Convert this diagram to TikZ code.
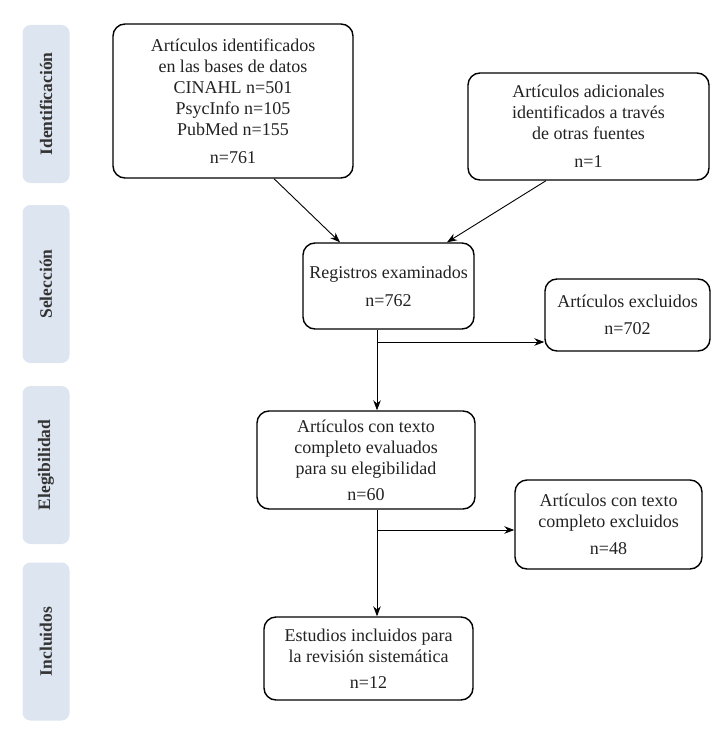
\documentclass[tikz,border=0pt]{standalone}
\usepackage{fontspec}
\setmainfont{Liberation Serif}
\usepackage{tikz}
\usetikzlibrary{arrows.meta, positioning}
\definecolor{lanefill}{RGB}{221,229,240}
\definecolor{inktext}{RGB}{34,34,34}

\begin{document}
\begin{tikzpicture}[
        x=1pt, y=-1pt,
        >={Stealth[length=10pt, width=7.5pt]},
        box/.style={draw, line width=1.4pt, rounded corners=12pt, align=center,
                    inner sep=0pt, text=inktext, font=\fontsize{18}{21}\selectfont},
        lane/.style={fill=lanefill, rounded corners=8pt, rotate=90, inner sep=0pt,
                     minimum width=158pt, minimum height=47pt, text=black!80,
                     font=\fontsize{17.5}{20}\selectfont\bfseries},
        e/.style={->, line width=0.9pt}
    ]
        \useasboundingbox (0,0) rectangle (722,738);

        % phases
        \node[lane] (l1) at (46,104)   {Identificación};
        \node[lane] (l2) at (46,284)   {Selección};
        \node[lane] (l3) at (46,465)   {Elegibilidad};
        \node[lane] (l4) at (46,641.5) {Incluidos};

        % boxes
        \node[box, minimum width=240pt, minimum height=154pt] (db) at (233,101)
            {Artículos identificados\\en las bases de datos\\CINAHL n=501\\PsycInfo n=105\\PubMed n=155\\[7pt]n=761};
        \node[box, minimum width=241pt, minimum height=107pt] (other) at (588.5,126.5)
            {Artículos adicionales\\identificados a través\\de otras fuentes\\[7pt]n=1};
        \node[box, minimum width=171pt, minimum height=86pt] (screen) at (388.5,286)
            {Registros examinados\\[7pt]n=762};
        \node[box, minimum width=165pt, minimum height=72pt] (excl) at (627.5,315)
            {Artículos excluidos\\[6pt]n=702};
        \node[box, minimum width=218pt, minimum height=98pt] (full) at (366,460)
            {Artículos con texto\\completo evaluados\\para su elegibilidad\\[5pt]n=60};
        \node[box, minimum width=187pt, minimum height=89pt] (fullexcl) at (608.5,524.5)
            {Artículos con texto\\completo excluidos\\[6pt]n=48};
        \node[box, minimum width=209pt, minimum height=83pt] (incl) at (368.5,658.5)
            {Estudios incluidos para\\la revisión sistemática\\[5pt]n=12};

        \coordinate (spine) at (377,0);
        \coordinate (b1) at (377,342);
        \coordinate (b2) at (377,530);

        % arrows
        \draw[e] (db.south -| 274,0) -- (screen.north -| 340,0);
        \draw[e] (other.south -| 546,0) -- (screen.north -| 447,0);
        \draw[e] (screen.south -| spine) -- (full.north -| spine);
        \draw[e] (b1) -- (b1 -| excl.west);
        \draw[e] (full.south -| spine) -- (incl.north -| spine);
        \draw[e] (b2) -- (b2 -| fullexcl.west);
    \end{tikzpicture}
\end{document}
